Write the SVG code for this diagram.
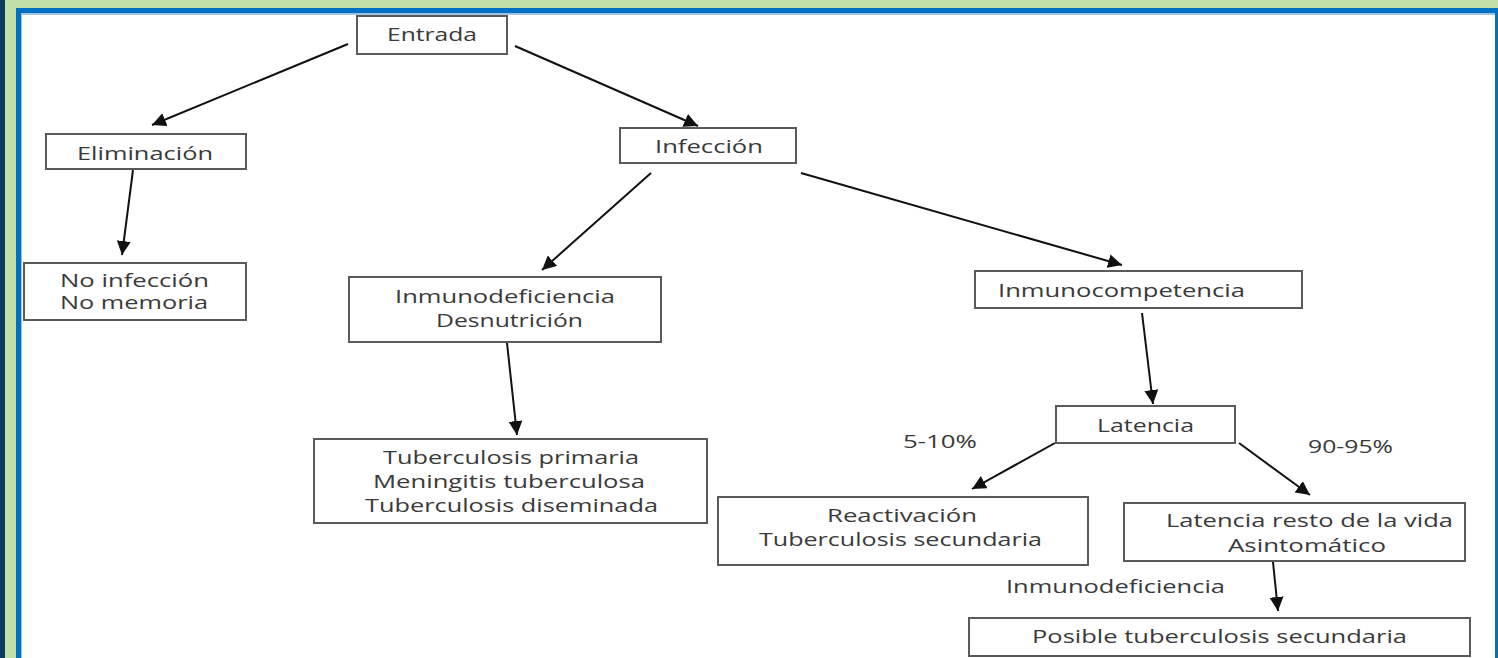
<svg xmlns="http://www.w3.org/2000/svg" width="1498" height="658" viewBox="0 0 1498 658">
<style>
.box{fill:#fff;stroke:#5a5a5a;stroke-width:2}
.t{font-family:"Open Sans","Liberation Sans",sans-serif;font-size:18px;fill:#3a3a3a;text-anchor:start}
.c{stroke:#111;stroke-width:2;fill:none;marker-end:url(#ah)}
</style>
<defs>
<marker id="ah" markerUnits="userSpaceOnUse" markerWidth="16" markerHeight="14" refX="14" refY="7" orient="auto">
<path d="M0,0 L14,7 L0,14 Z" fill="#111"/>
</marker>
</defs>
<rect x="0" y="0" width="1498" height="658" fill="#c3dfa9"/>
<rect x="0" y="0" width="5" height="658" fill="#0b3a5e"/>
<rect x="16" y="8" width="1482" height="650" fill="#0070c0"/>
<rect x="21" y="13" width="1474" height="645" fill="#9dc3e6"/>
<rect x="22" y="15" width="1473" height="643" fill="#fff"/>

<g id="connectors">
<line class="c" x1="348" y1="44" x2="152" y2="125"/>
<line class="c" x1="515" y1="46" x2="698" y2="126"/>
<line class="c" x1="133" y1="170" x2="122" y2="255"/>
<line class="c" x1="651" y1="173" x2="542" y2="270"/>
<line class="c" x1="801" y1="173" x2="1122" y2="265"/>
<line class="c" x1="507" y1="343" x2="517" y2="435"/>
<line class="c" x1="1142" y1="313" x2="1153" y2="404"/>
<line class="c" x1="1055" y1="443" x2="972" y2="489"/>
<line class="c" x1="1239" y1="443" x2="1310" y2="495"/>
<line class="c" x1="1273" y1="562" x2="1278" y2="611"/>
</g>

<g id="entrada">
<rect class="box" x="357" y="16" width="150" height="38"/>
<text class="t" x="387" y="41" textLength="90" lengthAdjust="spacingAndGlyphs">Entrada</text>
</g>
<g id="eliminacion">
<rect class="box" x="46" y="134" width="200" height="35"/>
<text class="t" x="77" y="160" textLength="136" lengthAdjust="spacingAndGlyphs">Eliminación</text>
</g>
<g id="infeccion">
<rect class="box" x="620" y="128" width="176" height="35"/>
<text class="t" x="655" y="153" textLength="108" lengthAdjust="spacingAndGlyphs">Infección</text>
</g>
<g id="no-infeccion">
<rect class="box" x="24" y="263" width="222" height="57"/>
<text class="t" x="60" y="287" textLength="149" lengthAdjust="spacingAndGlyphs">No infección</text>
<text class="t" x="60" y="309" textLength="148" lengthAdjust="spacingAndGlyphs">No memoria</text>
</g>
<g id="inmunodeficiencia">
<rect class="box" x="349" y="277" width="312" height="65"/>
<text class="t" x="395" y="303" textLength="220" lengthAdjust="spacingAndGlyphs">Inmunodeficiencia</text>
<text class="t" x="436" y="327" textLength="147" lengthAdjust="spacingAndGlyphs">Desnutrición</text>
</g>
<g id="inmunocompetencia">
<rect class="box" x="975" y="271" width="327" height="37"/>
<text class="t" x="998" y="297" textLength="247" lengthAdjust="spacingAndGlyphs">Inmunocompetencia</text>
</g>
<g id="tuberculosis">
<rect class="box" x="314" y="439" width="393" height="84"/>
<text class="t" x="383" y="464" textLength="256" lengthAdjust="spacingAndGlyphs">Tuberculosis primaria</text>
<text class="t" x="373" y="488" textLength="272" lengthAdjust="spacingAndGlyphs">Meningitis tuberculosa</text>
<text class="t" x="365" y="512" textLength="293" lengthAdjust="spacingAndGlyphs">Tuberculosis diseminada</text>
</g>
<g id="latencia">
<rect class="box" x="1056" y="406" width="179" height="37"/>
<text class="t" x="1097" y="432" textLength="97" lengthAdjust="spacingAndGlyphs">Latencia</text>
</g>
<g id="reactivacion">
<rect class="box" x="718" y="497" width="370" height="68"/>
<text class="t" x="827" y="522" textLength="150" lengthAdjust="spacingAndGlyphs">Reactivación</text>
<text class="t" x="759" y="546" textLength="283" lengthAdjust="spacingAndGlyphs">Tuberculosis secundaria</text>
</g>
<g id="latencia-resto">
<rect class="box" x="1124" y="503" width="341" height="58"/>
<text class="t" x="1166" y="527" textLength="287" lengthAdjust="spacingAndGlyphs">Latencia resto de la vida</text>
<text class="t" x="1228" y="552" textLength="158" lengthAdjust="spacingAndGlyphs">Asintomático</text>
</g>
<g id="posible">
<rect class="box" x="969" y="618" width="501" height="38"/>
<text class="t" x="1032" y="643" textLength="375" lengthAdjust="spacingAndGlyphs">Posible tuberculosis secundaria</text>
</g>
<g id="labels">
<text class="t" x="903" y="448" textLength="74" lengthAdjust="spacingAndGlyphs">5-10%</text>
<text class="t" x="1308" y="453" textLength="85" lengthAdjust="spacingAndGlyphs">90-95%</text>
<text class="t" x="1006" y="593" textLength="219" lengthAdjust="spacingAndGlyphs">Inmunodeficiencia</text>
</g>
</svg>
